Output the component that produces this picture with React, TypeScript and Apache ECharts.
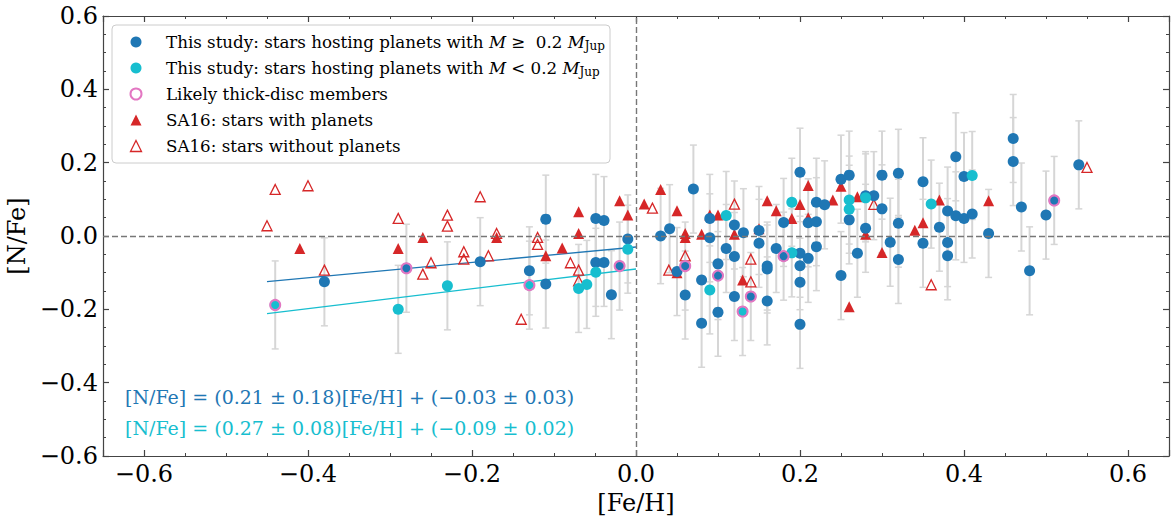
import React, { useEffect, useRef } from "react";
import * as echarts from "echarts";

// [Fe/H], [N/Fe], error
const blueStars: number[][] = [
  [-0.38, -0.125, 0.12], [-0.28, -0.088, 0.12], [-0.19, -0.07, 0.12], [-0.13, -0.095, 0.12],
  [-0.11, 0.046, 0.12], [-0.11, -0.131, 0.12], [-0.049, 0.048, 0.12], [-0.039, 0.042, 0.12],
  [-0.049, -0.072, 0.12], [-0.039, -0.072, 0.12], [-0.03, -0.16, 0.12], [-0.02, -0.082, 0.12],
  [-0.01, -0.008, 0.12],
  [0.03, 0.0, 0.13], [0.041, 0.02, 0.12], [0.07, 0.128, 0.12], [0.05, -0.097, 0.12],
  [0.06, -0.082, 0.12], [0.06, -0.161, 0.12], [0.08, -0.12, 0.12], [0.08, -0.238, 0.12],
  [0.09, 0.048, 0.12], [0.09, -0.005, 0.12], [0.1, -0.076, 0.12], [0.1, -0.108, 0.12],
  [0.1, -0.208, 0.12], [0.11, -0.034, 0.12], [0.12, 0.03, 0.12], [0.12, -0.056, 0.12],
  [0.12, -0.165, 0.12], [0.131, 0.009, 0.12], [0.14, -0.165, 0.12], [0.15, 0.015, 0.12],
  [0.15, -0.02, 0.12], [0.16, -0.082, 0.12], [0.16, -0.09, 0.12], [0.16, -0.177, 0.12],
  [0.171, -0.034, 0.12], [0.18, 0.037, 0.12], [0.18, -0.055, 0.12], [0.2, 0.174, 0.12],
  [0.2, -0.047, 0.12], [0.2, -0.081, 0.12], [0.2, -0.126, 0.12], [0.2, -0.241, 0.12],
  [0.21, 0.036, 0.12], [0.21, -0.061, 0.12], [0.22, 0.092, 0.12], [0.22, 0.039, 0.12],
  [0.22, -0.029, 0.12], [0.23, 0.085, 0.12], [0.25, 0.155, 0.12], [0.26, 0.166, 0.12],
  [0.26, 0.044, 0.12], [0.25, -0.108, 0.12], [0.27, -0.047, 0.12], [0.28, 0.11, 0.12],
  [0.28, 0.021, 0.12], [0.29, 0.11, 0.12], [0.3, 0.166, 0.12], [0.3, 0.074, 0.12],
  [0.31, -0.017, 0.12], [0.32, 0.171, 0.12], [0.32, 0.035, 0.12], [0.32, -0.064, 0.12],
  [0.35, 0.148, 0.12], [0.35, -0.02, 0.12], [0.37, 0.024, 0.12], [0.38, 0.068, 0.12],
  [0.38, -0.018, 0.12], [0.38, -0.054, 0.12], [0.39, 0.216, 0.12], [0.39, 0.055, 0.12],
  [0.4, 0.162, 0.12], [0.4, 0.048, 0.12], [0.41, 0.06, 0.12], [0.43, 0.007, 0.12],
  [0.46, 0.266, 0.12], [0.46, 0.203, 0.12], [0.47, 0.079, 0.12], [0.48, -0.095, 0.12],
  [0.5, 0.057, 0.12], [0.51, 0.097, 0.12], [0.54, 0.194, 0.12],
];

const cyanStars: number[][] = [
  [-0.44, -0.188, 0.12], [-0.29, -0.2, 0.12], [-0.23, -0.136, 0.12], [-0.13, -0.134, 0.12],
  [-0.07, -0.143, 0.12], [-0.06, -0.132, 0.12], [-0.049, -0.099, 0.12], [-0.01, -0.036, 0.12],
  [0.09, -0.147, 0.12], [0.11, 0.056, 0.12], [0.13, -0.206, 0.12], [0.19, 0.092, 0.12],
  [0.19, -0.046, 0.12], [0.26, 0.098, 0.12], [0.26, 0.073, 0.12], [0.28, 0.104, 0.12],
  [0.36, 0.087, 0.12], [0.41, 0.165, 0.12],
];

const thickDisc: number[][] = [
  [-0.44, -0.188], [-0.28, -0.088], [-0.13, -0.134], [-0.02, -0.082], [0.06, -0.082],
  [0.1, -0.108], [0.13, -0.206], [0.14, -0.165], [0.18, -0.055], [0.51, 0.097],
];

const sa16WithPlanets: number[][] = [
  [-0.41, -0.034], [-0.29, -0.034], [-0.26, -0.004], [-0.17, -0.004], [-0.11, -0.054],
  [-0.09, -0.033], [-0.07, 0.066], [-0.07, 0.007], [-0.02, 0.096], [-0.01, 0.057],
  [0.01, 0.087], [0.03, 0.127], [0.05, 0.069], [0.06, 0.007], [0.06, -0.004], [0.05, -0.1],
  [0.08, 0.005], [0.09, 0.057], [0.1, 0.057], [0.12, 0.005], [0.13, -0.12], [0.15, 0.02],
  [0.16, 0.096], [0.171, 0.069], [0.19, 0.048], [0.2, 0.086], [0.21, 0.138], [0.21, 0.05],
  [0.24, 0.098], [0.25, 0.136], [0.27, 0.107], [0.28, 0.005], [0.26, -0.193], [0.3, -0.045],
  [0.34, 0.016], [0.35, 0.036], [0.37, 0.098], [0.43, 0.096],
];

const sa16WithoutPlanets: number[][] = [
  [-0.45, 0.028], [-0.44, 0.127], [-0.4, 0.137], [-0.38, -0.093], [-0.29, 0.048],
  [-0.26, -0.104], [-0.25, -0.073], [-0.23, 0.057], [-0.23, 0.027], [-0.21, -0.043],
  [-0.21, -0.063], [-0.19, 0.107], [-0.18, -0.054], [-0.17, 0.007], [-0.14, -0.227],
  [-0.12, -0.004], [-0.12, -0.023], [-0.08, -0.073], [-0.07, -0.093], [-0.07, -0.122],
  [0.02, 0.076], [0.04, -0.093], [0.06, -0.054], [0.12, 0.087], [0.14, -0.063],
  [0.14, -0.125], [0.29, 0.086], [0.36, -0.133], [0.55, 0.187],
];

const blueFit: number[][] = [[-0.45, -0.1245], [0.0, -0.03]];
const cyanFit: number[][] = [[-0.45, -0.2115], [0.0, -0.09]];

const eqBlue = "[N/Fe] = (0.21 \u00b1 0.18)[Fe/H] + (\u22120.03 \u00b1 0.03)";
const eqCyan = "[N/Fe] = (0.27 \u00b1 0.08)[Fe/H] + (\u22120.09 \u00b1 0.02)";

const N1 = "This study: stars hosting planets with M \u2265 0.2 MJup";
const N2 = "This study: stars hosting planets with M < 0.2 MJup";
const N3 = "Likely thick-disc members";
const N4 = "SA16: stars with planets";
const N5 = "SA16: stars without planets";

const legendRich: Record<string, string> = {
  [N1]: "{f|This study: stars hosting planets with }{i|M}{r| \u2265  0.2 }{i|M}{s|Jup}",
  [N2]: "{f|This study: stars hosting planets with }{i|M}{r| < 0.2 }{i|M}{s|Jup}",
  [N3]: "{f|Likely thick-disc members}",
  [N4]: "{f|SA16: stars with planets}",
  [N5]: "{f|SA16: stars without planets}",
};

const BLUE = "#1f77b4";
const CYAN = "#17becf";
const PINK = "#e377c2";
const RED = "#d62728";
const FONT = '"DejaVu Serif", "Liberation Serif", serif';
const AX = "#444";
const LFS = 16.7;

const fmt = (v: number) => {
  const a = Math.abs(v).toFixed(1);
  return v < -1e-9 ? "\u2212" + a : a;
};

function makeX(bottom: boolean): any {
  return {
    type: "value",
    min: -0.65,
    max: 0.65,
    minInterval: 0.2,
    maxInterval: 0.2,
    position: bottom ? "bottom" : "top",
    axisLine: { show: true, onZero: false, lineStyle: { color: AX, width: 1.2 } },
    axisTick: { show: true, inside: true, length: 6, lineStyle: { color: AX, width: 1.2 } },
    minorTick: { show: true, splitNumber: 4, length: 3, lineStyle: { color: AX, width: 1 } },
    splitLine: { show: false },
    axisLabel: {
      show: bottom,
      margin: 6,
      formatter: fmt,
      fontFamily: FONT,
      fontSize: 24,
      color: "#000",
      showMinLabel: false,
      showMaxLabel: false,
    },
    name: bottom ? "[Fe/H]" : "",
    nameLocation: "middle",
    nameGap: 29,
    nameTextStyle: { fontFamily: FONT, fontSize: 24, color: "#000" },
  };
}

function makeY(left: boolean): any {
  return {
    type: "value",
    min: -0.6,
    max: 0.6,
    interval: 0.2,
    position: left ? "left" : "right",
    axisLine: { show: true, onZero: false, lineStyle: { color: AX, width: 1.2 } },
    axisTick: { show: true, inside: true, length: 6, lineStyle: { color: AX, width: 1.2 } },
    minorTick: { show: true, splitNumber: 4, length: 3, lineStyle: { color: AX, width: 1 } },
    splitLine: { show: false },
    axisLabel: {
      show: left,
      margin: 5,
      formatter: fmt,
      fontFamily: FONT,
      fontSize: 24,
      color: "#000",
    },
    name: left ? "[N/Fe]" : "",
    nameLocation: "middle",
    nameGap: 55,
    nameTextStyle: { fontFamily: FONT, fontSize: 24, color: "#000" },
  };
}

const errRender = (params: any, api: any) => {
  const x = api.value(0);
  const y = api.value(1);
  const e = api.value(2);
  const top = api.coord([x, y + e]);
  const bot = api.coord([x, y - e]);
  const hw = 3.5;
  const st = { stroke: "#d6d6d6", lineWidth: 2 };
  const cs = { stroke: "#d6d6d6", lineWidth: 1.5 };
  return {
    type: "group",
    children: [
      { type: "line", shape: { x1: top[0], y1: top[1], x2: bot[0], y2: bot[1] }, style: st },
      { type: "line", shape: { x1: top[0] - hw, y1: top[1], x2: top[0] + hw, y2: top[1] }, style: cs },
      { type: "line", shape: { x1: bot[0] - hw, y1: bot[1], x2: bot[0] + hw, y2: bot[1] }, style: cs },
    ],
  };
};

export default function App() {
  const ref = useRef<HTMLDivElement>(null);
  useEffect(() => {
    if (!ref.current) return;
    const chart = echarts.init(ref.current, undefined, { renderer: "svg" });
    const option: any = {
      animation: false,
      backgroundColor: "#fff",
      grid: { left: 103, right: 2, top: 16, bottom: 61, outerBoundsMode: "none" },
      xAxis: [makeX(true), makeX(false)],
      yAxis: [makeY(true), makeY(false)],
      legend: {
        orient: "vertical",
        left: 129.5,
        top: 32,
        padding: 0,
        itemWidth: 11,
        itemHeight: 11,
        itemGap: 6,
        selectedMode: false,
        z: 60,
        data: [
          { name: N1, icon: "circle", itemStyle: { color: BLUE, opacity: 1 } },
          { name: N2, icon: "circle", itemStyle: { color: CYAN, opacity: 1 } },
          { name: N3, icon: "circle", itemStyle: { color: "rgba(0,0,0,0)", borderColor: PINK, borderWidth: 2, opacity: 1 } },
          { name: N4, icon: "triangle", itemStyle: { color: RED, opacity: 1 } },
          { name: N5, icon: "triangle", itemStyle: { color: "rgba(0,0,0,0)", borderColor: RED, borderWidth: 1.3, opacity: 1 } },
        ],
        formatter: (name: string) => legendRich[name] || name,
        textStyle: {
          fontFamily: FONT,
          fontSize: LFS,
          color: "#000",
          lineHeight: 20,
          rich: {
            f: { fontFamily: FONT, fontSize: LFS, lineHeight: 20, color: "#000", padding: [0, 0, 0, 19.5] },
            r: { fontFamily: FONT, fontSize: LFS, lineHeight: 20, color: "#000" },
            i: { fontFamily: FONT, fontSize: LFS, lineHeight: 20, fontStyle: "italic", color: "#000" },
            s: { fontFamily: FONT, fontSize: 12, lineHeight: 12, verticalAlign: "bottom", color: "#000" },
          },
        },
      },
      graphic: [
        {
          type: "rect",
          z: 50,
          shape: { x: 112, y: 25, width: 498, height: 138, r: 4 },
          style: { fill: "rgba(255,255,255,0.8)", stroke: "#cccccc", lineWidth: 1 },
        },
        {
          type: "text",
          x: 125,
          y: 397,
          z: 50,
          style: { text: eqBlue, fill: BLUE, fontFamily: FONT, fontSize: 19, verticalAlign: "middle", align: "left" },
        },
        {
          type: "text",
          x: 125,
          y: 428,
          z: 50,
          style: { text: eqCyan, fill: CYAN, fontFamily: FONT, fontSize: 19, verticalAlign: "middle", align: "left" },
        },
      ],
      series: [
        {
          type: "custom",
          name: "errors",
          data: [...blueStars, ...cyanStars],
          renderItem: errRender,
          encode: { x: 0, y: 1 },
          silent: true,
          z: 1,
        },
        {
          type: "line",
          name: "fitBlue",
          data: blueFit,
          symbol: "none",
          lineStyle: { color: BLUE, width: 1.3 },
          silent: true,
          z: 2,
          markLine: {
            silent: true,
            symbol: ["none", "none"],
            label: { show: false },
            lineStyle: { type: [6, 3], color: "#777", width: 1.4 },
            data: [{ yAxis: 0 }, { xAxis: 0 }],
          },
        },
        {
          type: "line",
          name: "fitCyan",
          data: cyanFit,
          symbol: "none",
          lineStyle: { color: CYAN, width: 1.3 },
          silent: true,
          z: 2,
        },
        {
          type: "scatter",
          name: N5,
          data: sa16WithoutPlanets,
          symbol: "triangle",
          symbolSize: 10,
          itemStyle: { color: "rgba(0,0,0,0)", borderColor: RED, borderWidth: 1.3, opacity: 1 },
          z: 3,
        },
        {
          type: "scatter",
          name: N4,
          data: sa16WithPlanets,
          symbol: "triangle",
          symbolSize: 11,
          itemStyle: { color: RED, opacity: 1 },
          z: 3,
        },
        {
          type: "scatter",
          name: N1,
          data: blueStars.map((d) => [d[0], d[1]]),
          symbol: "circle",
          symbolSize: 11,
          itemStyle: { color: BLUE, opacity: 1 },
          z: 4,
        },
        {
          type: "scatter",
          name: N2,
          data: cyanStars.map((d) => [d[0], d[1]]),
          symbol: "circle",
          symbolSize: 11,
          itemStyle: { color: CYAN, opacity: 1 },
          z: 4,
        },
        {
          type: "scatter",
          name: N3,
          data: thickDisc,
          symbol: "circle",
          symbolSize: 10,
          itemStyle: { color: "rgba(0,0,0,0)", borderColor: PINK, borderWidth: 2, opacity: 1 },
          z: 5,
        },
      ],
    };
    chart.setOption(option);
    return () => chart.dispose();
  }, []);
  return <div ref={ref} style={{ position: "fixed", left: 0, top: 0, width: 1171, height: 517 }} />;
}
